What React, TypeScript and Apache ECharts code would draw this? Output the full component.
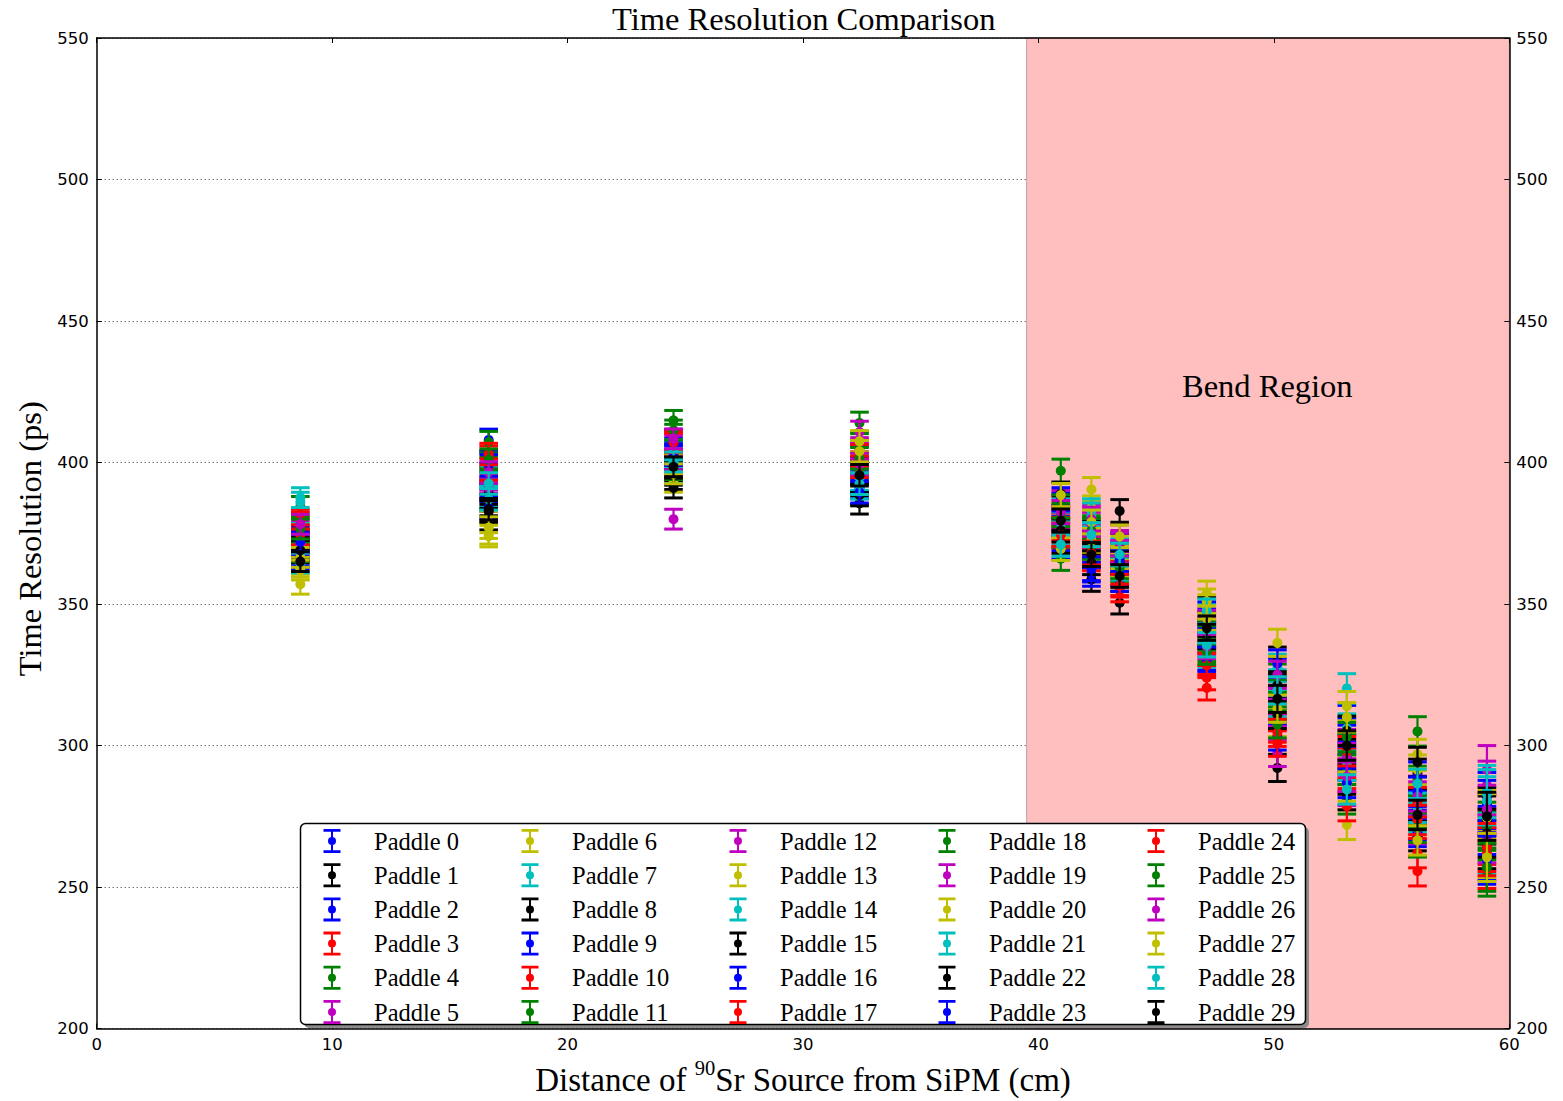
import React, { useEffect, useRef } from "react";
import * as echarts from "echarts";

// Source distances (cm) at which every paddle was measured
const positions = [8.65, 16.65, 24.5, 32.4, 40.95, 42.25, 43.45, 47.15, 50.15, 53.1, 56.1, 59.05];
// Typical uncertainty (ps) of the measurements at each distance
const positionErrors = [3.5, 3.8, 3.5, 3.8, 4.1, 4.2, 4.0, 4.3, 4.8, 5.2, 5.2, 8.5];

const paddleNames = Array.from({ length: 30 }, (_, i) => `Paddle ${i}`);
const paddleColors = [
  "#0000ff", "#000000", "#0000ff", "#ff0000", "#008000", "#bf00bf", "#bfbf00", "#00bfbf",
  "#000000", "#0000ff", "#ff0000", "#008000", "#bf00bf", "#bfbf00", "#00bfbf",
  "#000000", "#0000ff", "#ff0000", "#008000", "#bf00bf", "#bfbf00", "#00bfbf",
  "#000000", "#0000ff", "#ff0000", "#008000", "#bf00bf", "#bfbf00", "#00bfbf", "#000000",
];

// Time resolution (ps) of paddles 0..29 at each distance
const resAt8_65 = [371, 368, 374, 377, 384.5, 376, 357, 386, 370, 366, 379, 372, 369, 363, 375, 373, 367, 374.5, 368.5, 371.5, 366.5, 364.5, 369, 372, 380, 376.5, 378.2, 362, 387.6, 365];
const resAt16_65 = [396, 385, 390, 400, 398, 393, 375, 388, 380, 408, 402, 394.5, 386.5, 374, 395, 389, 384, 397.5, 407.2, 391, 379, 387, 382.7, 399, 403, 401, 396.5, 377, 392.6, 383.5];
const resAt24_5 = [404, 397, 408, 406.7, 410, 380, 398, 402, 394, 405, 399, 414.9, 401, 393, 396, 395.5, 403, 408, 397.5, 406, 399.5, 404.5, 391, 402.5, 407, 411.5, 408.4, 396, 400.2, 398.5];
const resAt32_4 = [398, 392, 402, 400, 414, 403, 404.3, 396, 389, 393.5, 397, 407, 410.8, 399, 394, 385.6, 391, 402.5, 396.5, 405, 407.5, 390.9, 388.5, 389.5, 398.5, 401.5, 399.5, 404, 392.5, 395.5];
const resAt40_95 = [380, 384, 373, 378, 397.1, 386, 382, 375, 389, 370, 374, 366, 380.5, 377, 383, 372, 385, 376.5, 381.5, 379, 369.5, 378.5, 376, 387, 374.5, 384.5, 382.5, 388.5, 371, 379.5];
const resAt42_25 = [362, 372, 376, 369, 374, 381, 384, 379.5, 358.7, 367, 371, 377, 373.5, 390.5, 381.5, 375, 360.5, 366, 370, 378.2, 372.5, 383, 364.6, 362.5, 368, 376, 380, 379, 374.5, 367.5];
const resAt43_45 = [364, 350.5, 368, 357, 362, 374, 370, 366, 371, 360.5, 354.8, 367, 372, 363.5, 369, 382.9, 358.5, 361, 365, 368.5, 366.5, 362.5, 364.8, 365.5, 356.5, 363, 371, 373.9, 367.5, 359.9];
const resAt47_15 = [344, 339, 331, 320.4, 334, 341, 353.8, 346, 348, 337, 329.5, 340, 336, 349, 332, 342.9, 346.5, 324, 338, 343.5, 351, 347.5, 338.6, 330.5, 328.3, 333, 335, 345, 335.6, 341.5];
const resAt50_15 = [318, 292.1, 326, 310, 314, 297.4, 320, 322, 330, 312, 306, 324, 316, 308, 327.5, 321.3, 303.2, 301, 318.5, 311.5, 336.3, 315, 310.8, 329, 304.5, 307.5, 325, 313, 319.5, 316.5];
const resAt53_1 = [302, 297, 309, 290, 299, 284, 272, 320.2, 288, 304.5, 293.5, 281, 300.5, 313.9, 306, 282.5, 296, 278.6, 291.5, 295.6, 285.5, 292.9, 305.2, 286.8, 298, 303, 289, 310, 284.5, 300];
const resAt56_1 = [279, 290, 272, 255.6, 305, 276, 286, 281, 268, 289, 262, 265.8, 284, 291.5, 274.5, 277.5, 269.5, 280, 287.5, 270.5, 297, 278, 294.2, 283.7, 273.7, 271, 282, 266.5, 286.5, 275.5];
const resAt59_05 = [270, 265, 282, 258, 268, 286, 276, 263, 273.7, 261, 266.5, 255.3, 291.5, 261.9, 284.5, 276.7, 279.2, 262.5, 271.5, 267, 274.5, 280.5, 269, 259.5, 264, 257, 277.5, 260.5, 283, 275];

const resolutionColumns = [
  resAt8_65, resAt16_65, resAt24_5, resAt32_4, resAt40_95, resAt42_25,
  resAt43_45, resAt47_15, resAt50_15, resAt53_1, resAt56_1, resAt59_05,
];

const bendStart = 39.5;
const xRange = [0, 60];
const yRange = [200, 550];

const SERIF = "Liberation Serif";
const SANS = "DejaVu Sans";

const legendIcon =
  "path://M0,0 L17,0 L17,2.8 L0,2.8 Z M7.5,2.8 L9.5,2.8 L9.5,21.2 L7.5,21.2 Z M0,21.2 L17,21.2 L17,24 L0,24 Z M4.5,12 A4,4 0 1,1 12.5,12 A4,4 0 1,1 4.5,12 Z";

export default function App() {
  const ref = useRef<HTMLDivElement>(null);

  useEffect(() => {
    if (!ref.current) return;
    const chart = echarts.init(ref.current, undefined, { renderer: "svg" });

    const errorSeries = paddleNames.map((name, i) => ({
      type: "custom",
      name,
      coordinateSystem: "cartesian2d",
      xAxisIndex: 0,
      yAxisIndex: 0,
      dimensions: ["distance", "resolution", "error"],
      encode: { x: 0, y: 1 },
      data: positions.map((x, j) => [x, resolutionColumns[j][i], positionErrors[j]]),
      itemStyle: { color: paddleColors[i] },
      silent: true,
      z: 2,
      renderItem: (params: any, api: any) => {
        const x = api.value(0);
        const y = api.value(1);
        const e = api.value(2);
        const c = api.coord([x, y]);
        const hi = api.coord([x, y + e]);
        const lo = api.coord([x, y - e]);
        const col = paddleColors[i];
        const hw = 9.3;
        return {
          type: "group",
          children: [
            { type: "line", shape: { x1: c[0], y1: hi[1], x2: c[0], y2: lo[1] }, style: { stroke: col, lineWidth: 2.2 } },
            { type: "line", shape: { x1: c[0] - hw, y1: hi[1], x2: c[0] + hw, y2: hi[1] }, style: { stroke: col, lineWidth: 3 } },
            { type: "line", shape: { x1: c[0] - hw, y1: lo[1], x2: c[0] + hw, y2: lo[1] }, style: { stroke: col, lineWidth: 3 } },
            { type: "circle", shape: { cx: c[0], cy: c[1], r: 5 }, style: { fill: col } },
          ],
        };
      },
    }));

    const bendSeries = {
      type: "scatter",
      name: "bend",
      data: [[bendStart, yRange[0]]],
      symbolSize: 0,
      silent: true,
      z: 0,
      markArea: {
        silent: true,
        itemStyle: { color: "#ffbfbf", borderColor: "#c99a9a", borderWidth: 1 },
        label: { show: false },
        data: [[{ xAxis: bendStart, yAxis: yRange[0] }, { xAxis: xRange[1], yAxis: yRange[1] }]],
      },
    };

    const axisLine = { show: true, onZero: false, lineStyle: { color: "#000", width: 1.5 } };
    const axisTick = { show: true, inside: true, length: 5, lineStyle: { color: "#000", width: 1 } };
    const tickLabel = { fontFamily: SANS, fontSize: 16.5, color: "#000" };

    // left edge of the first visible icon in each legend column
    const legendLefts = [323.5, 521.5, 729.5, 938.5, 1147.5];
    const legends = legendLefts.map((left, k) => ({
      orient: "vertical",
      left,
      top: 828.5,
      padding: 0,
      itemWidth: 74,
      itemHeight: 24,
      itemGap: 9.2,
      icon: legendIcon,
      symbolKeepAspect: true,
      selectedMode: false,
      itemStyle: { borderWidth: 0 },
      textStyle: { fontFamily: SERIF, fontSize: 24.5, color: "#000", lineHeight: 24 },
      data: paddleNames.slice(k * 6, k * 6 + 6).map((n, m) => ({
        name: n,
        itemStyle: { color: paddleColors[k * 6 + m], borderWidth: 0 },
      })),
      z: 30,
    }));

    chart.setOption({
      animation: false,
      backgroundColor: "#fff",
      title: {
        text: "Time Resolution Comparison",
        left: 612,
        top: 2,
        padding: 0,
        textStyle: { fontFamily: SERIF, fontSize: 32.5, fontWeight: "normal", color: "#000" },
      },
      grid: { left: 96.7, right: 53.7, top: 38, bottom: 65, containLabel: false },
      xAxis: [
        {
          type: "value",
          position: "bottom",
          min: xRange[0],
          max: xRange[1],
          interval: 10,
          z: 1,
          axisLine,
          axisTick,
          axisLabel: { ...tickLabel, margin: 7 },
          splitLine: { show: false },
          name: "{a|Distance of }{sup|90}{a|Sr Source from SiPM (cm)}",
          nameLocation: "middle",
          nameGap: 23,
          nameTextStyle: {
            fontFamily: SERIF,
            fontSize: 33,
            color: "#000",
            rich: {
              a: { fontFamily: SERIF, fontSize: 33, lineHeight: 44, color: "#000" },
              sup: { fontFamily: SERIF, fontSize: 20.5, lineHeight: 16, verticalAlign: "top", color: "#000" },
            },
          },
        },
        {
          type: "value",
          position: "top",
          min: xRange[0],
          max: xRange[1],
          interval: 10,
          z: 1,
          axisLine,
          axisTick,
          axisLabel: { show: false },
          splitLine: { show: false },
        },
      ],
      yAxis: [
        {
          type: "value",
          position: "left",
          min: yRange[0],
          max: yRange[1],
          interval: 50,
          z: 1,
          axisLine,
          axisTick,
          axisLabel: { ...tickLabel, margin: 8 },
          splitLine: { show: true, lineStyle: { color: "#333", width: 1, type: [1, 3] } },
          name: "Time Resolution (ps)",
          nameLocation: "middle",
          nameGap: 50,
          nameTextStyle: { fontFamily: SERIF, fontSize: 32.5, color: "#000", lineHeight: 32, padding: [0, 11, 0, 0] },
        },
        {
          type: "value",
          position: "right",
          min: yRange[0],
          max: yRange[1],
          interval: 50,
          z: 1,
          axisLine,
          axisTick,
          axisLabel: { ...tickLabel, margin: 7 },
          splitLine: { show: false },
        },
      ],
      legend: legends,
      graphic: [
        {
          type: "text",
          z: 5,
          style: {
            text: "Bend Region",
            x: 1182,
            y: 386,
            verticalAlign: "middle",
            font: `32.5px "${SERIF}"`,
            fill: "#000",
          },
        },
        {
          type: "rect",
          z: 19,
          shape: { x: 304, y: 827, width: 1005, height: 201, r: 5 },
          style: { fill: "#8a8a8a" },
        },
        {
          type: "rect",
          z: 20,
          shape: { x: 300.5, y: 823.5, width: 1005, height: 201, r: 5 },
          style: { fill: "#fff", stroke: "#000", lineWidth: 1.5 },
        },
      ],
      series: [bendSeries, ...errorSeries],
    });

    return () => chart.dispose();
  }, []);

  return (
    <div
      ref={ref}
      style={{ position: "fixed", left: 0, top: 0, width: 1563, height: 1101, background: "#fff" }}
    />
  );
}
